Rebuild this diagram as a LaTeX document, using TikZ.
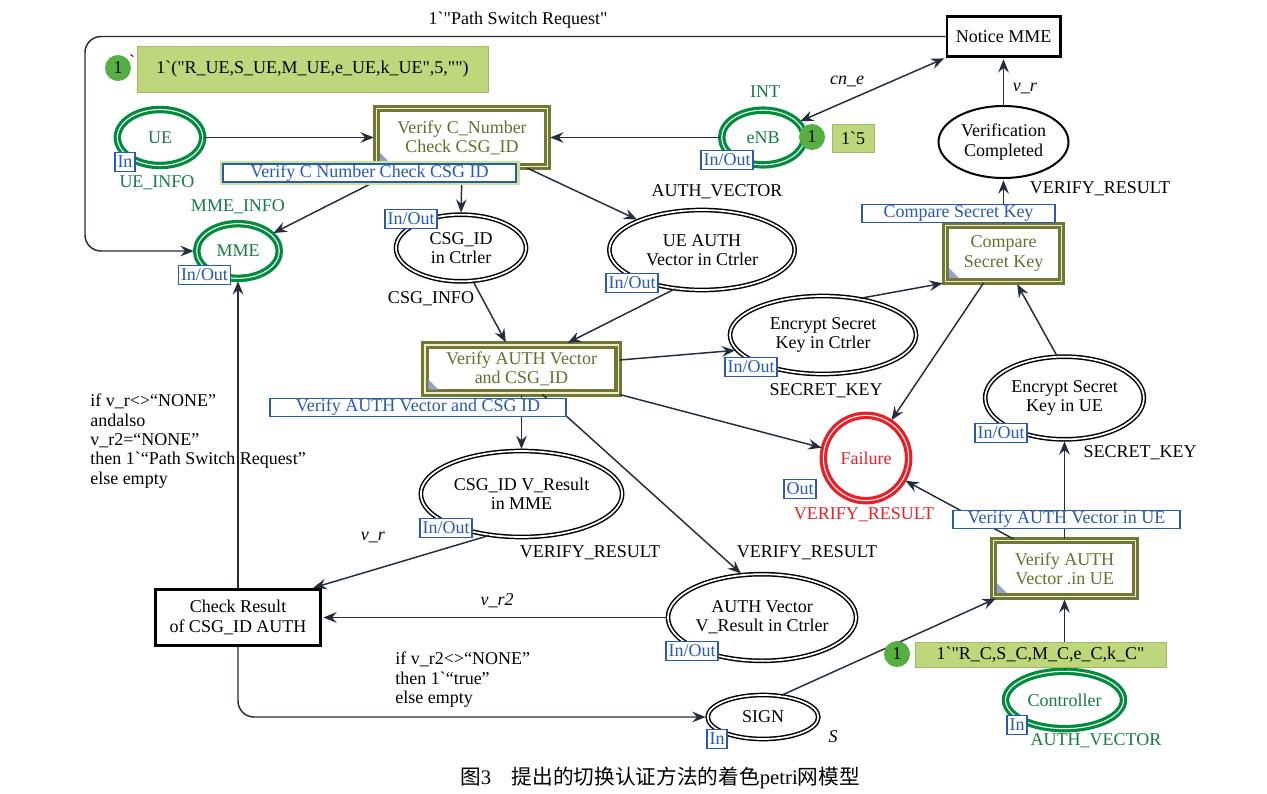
\documentclass[tikz,border=0pt]{standalone}
\usepackage{fontspec}
\setmainfont{Liberation Serif}
\newfontfamily\lib{Liberation Serif}
\newfontfamily\cjk{Noto Sans CJK SC}
\usetikzlibrary{shapes.geometric,arrows.meta,calc}
\definecolor{pgreen}{RGB}{0,140,60}
\definecolor{tgreen}{RGB}{20,125,65}
\definecolor{tolive}{RGB}{112,120,52}
\definecolor{otext}{RGB}{100,110,45}
\definecolor{cream}{RGB}{240,240,200}
\definecolor{tagblue}{RGB}{40,90,180}
\definecolor{tokfill}{RGB}{190,215,125}
\definecolor{tokcirc}{RGB}{85,175,65}
\definecolor{fred}{RGB}{235,30,40}
\definecolor{arcc}{RGB}{35,45,60}
\definecolor{tricol}{RGB}{150,160,205}
\definecolor{glow}{RGB}{200,230,150}
\tikzset{
  every node/.style={font=\lib\fontsize{13.5}{14.5}\selectfont},
  gplace/.style={ellipse, draw=pgreen, line width=2.4pt, double=white, double distance=0.8pt, fill=white, text=tgreen, inner sep=0pt, align=center},
  bplace/.style={ellipse, draw=black, line width=1.1pt, double=white, double distance=1.3pt, fill=white, inner sep=0pt, align=center},
  rplace/.style={circle, draw=fred, line width=2.4pt, double=white, double distance=0.8pt, fill=white, text=fred, inner sep=0pt},
  splace/.style={ellipse, draw=black, line width=1.5pt, fill=white, inner sep=0pt, align=center},
  trans/.style={rectangle, draw=tolive, line width=2.3pt, double=cream, double distance=1pt, fill=white, text=otext, align=center, inner sep=0pt},
  btrans/.style={rectangle, draw=black, line width=2pt, fill=white, align=center, inner sep=0pt},
  tag/.style={rectangle, draw=tagblue, line width=1.1pt, fill=white, text=tagblue, inner xsep=2pt, inner ysep=0pt, minimum height=14pt},
  lbox/.style={tag, minimum height=13.5pt},
  tok/.style={circle, fill=tokcirc, minimum size=19.5pt, inner sep=0pt},
  tokbox/.style={rectangle, fill=tokfill, draw=tokfill!85!black, line width=0.4pt, inner sep=0pt},
  arc/.style={draw=arcc, line width=1.1pt, ->, shorten >=1pt, shorten <=0pt},
  lab/.style={inner sep=0pt},
  corner/.style={fill=tricol},
}
\begin{document}
\begin{tikzpicture}[x=0.75pt,y=-0.75pt,>={Stealth[length=10pt,width=8pt,inset=3.5pt]}]
\useasboundingbox[fill=white] (0,0) rectangle (1267,793);

% places
\node[gplace, minimum width=64pt, minimum height=42pt] (UE) at (160,137.5) {UE};
\node[gplace, minimum width=62pt, minimum height=41pt] (MME) at (238,251) {MME};
\node[gplace, minimum width=62pt, minimum height=41pt] (eNB) at (763,137.5) {eNB};
\node[gplace, minimum width=88.5pt, minimum height=43pt] (Ctrl) at (1064.5,700) {Controller};
\node[rplace, minimum size=64pt] (Fail) at (866,458) {Failure};
\node[bplace, minimum width=97.5pt, minimum height=50pt] (CSG) at (461,248) {CSG\_ID\\in Ctrler};
\node[bplace, minimum width=139pt, minimum height=60pt] (UA) at (702,250) {UE AUTH\\Vector in Ctrler};
\node[bplace, minimum width=139.5pt, minimum height=58.5pt] (EC) at (823,335) {Encrypt Secret\\Key in Ctrler};
\node[bplace, minimum width=119pt, minimum height=62pt] (EU) at (1064.5,398) {Encrypt Secret\\Key in UE};
\node[bplace, minimum width=151pt, minimum height=64.5pt] (CV) at (521.5,494) {CSG\_ID V\_Result\\in MME};
\node[bplace, minimum width=139pt, minimum height=65pt] (AV) at (762,617.5) {AUTH Vector\\V\_Result in Ctrler};
\node[bplace, minimum width=83pt, minimum height=33pt] (SIGN) at (763,717) {SIGN};
\node[splace, minimum width=97.5pt, minimum height=54pt] (VC) at (1003.5,142) {Verification\\Completed};

% transitions
\node[trans, minimum width=128pt, minimum height=43.5pt] (VCN) at (462,137.5) {Verify C\_Number\\Check CSG\_ID};
\node[trans, minimum width=145pt, minimum height=36pt] (VA) at (521.5,369) {Verify AUTH Vector\\and CSG\_ID};
\node[trans, minimum width=87pt, minimum height=42pt] (CSK) at (1003.5,253.5) {Compare\\Secret Key};
\node[trans, minimum width=106.5pt, minimum height=42pt] (VU) at (1064.5,568.5) {Verify AUTH\\Vector .in UE};
\node[btrans, minimum width=85pt, minimum height=30pt] (Notice) at (1003.5,36.5) {Notice MME};
\node[btrans, minimum width=124pt, minimum height=42pt] (Check) at (238,617.5) {Check Result\\of CSG\_ID AUTH};

% corner marks of transitions
\foreach \t in {VCN,VA,CSK,VU}{
  \fill[corner] ($(\t.south west)+(5,-5)$) -- ++(10,0) -- ++(-10,-10) -- cycle;
}

% arcs
\draw[arc] (UE) -- (VCN);
\draw[arc] (eNB) -- (VCN);
\draw[arc] (VCN.south) -- (CSG.north);
\draw[arc] (VCN) -- (UA);
\draw[arc] (VCN) -- (MME);
\draw[arc] (Check) -- (MME);
\draw[arc, rounded corners=12pt] (Notice.west) -- (85,36.5) -- (85,251) -- (MME.west);
\draw[arc, <->, shorten <=1pt] (eNB) -- (Notice.south west);
\draw[arc] (VC) -- (Notice);
\draw[arc] (CSK) -- (VC);
\draw[arc] (CSG.-70) -- ($(VA.north)+(-15,0)$);
\draw[arc] (UA.-125) -- ($(VA.north)+(45,0)$);
\draw[arc] ($(VA.east)+(0,-9)$) -- (EC.190);
\draw[arc] (EC.45) -- (CSK.south west);
\draw[arc] ($(CSK.south)+(-20,0)$) -- (Fail.56);
\draw[arc] (EU.100) -- ($(CSK.south)+(13,0)$);
\draw[arc] (VA.south east) -- (Fail.167);
\draw[arc] ($(VU.north)+(-51,0)$) -- (Fail.-30);
\draw[arc] (VU) -- (EU);
\draw[arc] (Ctrl) -- (VU);
\draw[arc] (SIGN.50) -- ($(VU.south west)+(5,0)$);
\draw[arc] (VA) -- (CV);
\draw[arc] ($(VA.south)+(21,0)$) -- (AV.115);
\draw[arc] (CV.-128) -- ($(Check.north east)+(-10,0)$);
\draw[arc] (AV) -- (Check);
\draw[arc, rounded corners=12pt] (Check.south) -- (238,717) -- (SIGN.west);

% port tags
\node[tag] (tUE) at (125,162) {In};
\node[tag] (tMME) at (204.5,275) {In/Out};
\node[tag] (teNB) at (727,160) {In/Out};
\node[tag] (tCSG) at (411,219) {In/Out};
\node[tag] (tUA) at (632,283) {In/Out};
\node[tag] (tEC) at (751,367) {In/Out};
\node[tag] (tEU) at (1001,433) {In/Out};
\node[tag] (tFail) at (800,489) {Out};
\node[tag] (tCV) at (446,528) {In/Out};
\node[tag] (tAV) at (692,651) {In/Out};
\node[tag] (tSIGN) at (717,739) {In};
\node[tag] (tCtrl) at (1017,725) {In};

% transition name boxes
\node[lbox, minimum width=220pt, preaction={draw=glow, line width=5pt}] (lVCN) at (369.5,173) {Verify C Number Check CSG ID};
\node[lbox, minimum width=222pt] (lVA) at (418,407.5) {Verify AUTH Vector and CSG ID};
\node[lbox, minimum width=145pt] (lCSK) at (958.5,213.5) {Compare Secret Key};
\node[lbox, minimum width=170pt] (lVU) at (1066.5,519.5) {Verify AUTH Vector in UE};

% tokens
\node[tok] (k1) at (118,68) {1};
\node[lab] (k1q) at (132,61) {\textasciigrave};
\node[tokbox, minimum width=263pt, minimum height=34.5pt] (m1) at (312.5,69) {1\textasciigrave("R\_UE,S\_UE,M\_UE,e\_UE,k\_UE",5,"")};
\node[tok] (k2) at (812,137) {1};
\node[tokbox, minimum width=31.5pt, minimum height=21pt] (m2) at (853,138) {1\textasciigrave 5};
\node[tok] (k3) at (897,654) {1};
\node[tokbox, minimum width=188pt, minimum height=19pt] (m3) at (1040.5,654.5) {1\textasciigrave"R\_C,S\_C,M\_C,e\_C,k\_C"};

% labels
\node[lab] (l1) at (518,20) {1\textasciigrave"Path Switch Request"};
\node[lab, text=tgreen] (l2) at (157,183) {UE\_INFO};
\node[lab, text=tgreen] (l3) at (238,207) {MME\_INFO};
\node[lab, text=tgreen] (l4) at (765,92) {INT};
\node[lab] (l5) at (847,81) {\textit{cn\_e}};
\node[lab] (l6) at (1025,88) {\textit{v\_r}};
\node[lab] (l7) at (717,192) {AUTH\_VECTOR};
\node[lab] (l8) at (1100,189) {VERIFY\_RESULT};
\node[lab] (l9) at (431,299) {CSG\_INFO};
\node[lab] (l10) at (826,391) {SECRET\_KEY};
\node[lab] (l11) at (1140,453) {SECRET\_KEY};
\node[lab, text=fred] (l12) at (864,515) {VERIFY\_RESULT};
\node[lab] (l13) at (807,553) {VERIFY\_RESULT};
\node[lab] (l14) at (590,553) {VERIFY\_RESULT};
\node[lab] (l15) at (373,537) {\textit{v\_r}};
\node[lab] (l16) at (497,601) {\textit{v\_r2}};
\node[lab, text=tgreen] (l17) at (1096,741) {AUTH\_VECTOR};
\node[lab] (l18) at (833,737) {\textit{S}};
\node[lab, anchor=north west, align=left] (g1) at (90,394) {if v\_r<>“NONE”\\andalso\\v\_r2=“NONE”\\then 1\textasciigrave“Path Switch Request”\\else empty};
\node[lab, anchor=north west, align=left] (g2) at (395,652) {if v\_r2<>“NONE”\\then 1\textasciigrave“true”\\else empty};

% caption
\node[lab, font=\lib\fontsize{15.5}{17}\selectfont] (cap) at (660,778) {{\cjk 图}3\quad{\cjk 提出的切换认证方法的着色}petri{\cjk 网模型}};
\end{tikzpicture}
\end{document}
